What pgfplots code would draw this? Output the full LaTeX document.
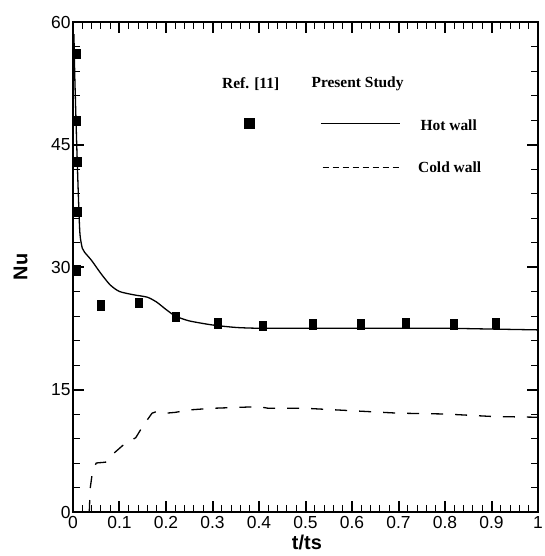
\documentclass[border=0pt]{standalone}
\usepackage{fontspec}
\setmainfont{Liberation Sans}
\newfontfamily\serifbold{Liberation Serif}
\usepackage{pgfplots}
\pgfplotsset{compat=1.18}

\begin{document}
\begin{tikzpicture}
\begin{axis}[
    scale only axis,
    width=465bp, height=490bp,
    xmin=0, xmax=1, ymin=0, ymax=60,
    xtick={0,0.1,...,1.0},
    xticklabels={0,0.1,0.2,0.3,0.4,0.5,0.6,0.7,0.8,0.9,1},
    ytick={0,15,30,45,60},
    minor x tick num=4,
    minor y tick num=4,
    tick align=inside,
    major tick length=11bp,
    minor tick length=7bp,
    major tick style={line width=2bp, black},
    minor tick style={line width=1bp, black},
    axis line style={line width=2bp},
    tick label style={font=\fontsize{17.5}{19}\selectfont},
    /pgf/number format/assume math mode=true,
    xticklabel style={yshift=-1bp},
    yticklabel style={xshift=1bp},
    xlabel={\bfseries t/ts},
    ylabel={\bfseries Nu},
    label style={font=\fontsize{20}{22}\selectfont},
    xlabel style={at={(axis description cs:0.503,0)}, anchor=north, yshift=-20bp},
    ylabel style={at={(axis description cs:0,0.5)}, anchor=south, yshift=42bp},
    clip=false,
]
% Hot wall (present study)
\addplot[black, line width=1.3bp, smooth, tension=0.4] coordinates {
    (0.002,58.5) (0.004,53) (0.008,45) (0.012,38) (0.015,34) (0.02,32.3)
    (0.025,31.8) (0.04,30.8) (0.06,29.2) (0.08,27.8) (0.1,27.0) (0.13,26.6)
    (0.16,26.3) (0.18,25.7) (0.2,24.8) (0.22,24.0) (0.25,23.4) (0.3,22.9)
    (0.35,22.6) (0.4,22.5) (0.5,22.5) (0.6,22.5) (0.7,22.5) (0.8,22.5)
    (0.9,22.4) (1.0,22.3)
};
% Cold wall (present study)
\addplot[black, line width=1.3bp, dash pattern=on 12bp off 12bp] coordinates {
    (0.035,0) (0.037,2.9) (0.042,5.0) (0.05,6.0) (0.07,6.1) (0.09,7.3)
    (0.11,8.3) (0.135,9.1) (0.15,10.5) (0.17,12.1) (0.18,12.3) (0.2,12.1)
    (0.22,12.2) (0.25,12.5) (0.3,12.7) (0.35,12.8) (0.4,12.9) (0.42,12.7)
    (0.5,12.7) (0.6,12.4) (0.7,12.1) (0.8,12.0) (0.9,11.7) (1.0,11.6)
};
% Ref. [11]
\addplot[only marks, mark=square*, mark size=3.5bp, mark options={yscale=1.35, fill=black}] coordinates {
    (0.008,56.1) (0.008,47.9) (0.01,42.9) (0.01,36.8) (0.008,29.6)
    (0.059,25.3) (0.141,25.6) (0.221,23.9) (0.311,23.1) (0.409,22.8)
    (0.516,23.0) (0.618,23.0) (0.716,23.1) (0.819,23.0) (0.910,23.1)
};
% legend
\node[font=\serifbold\bfseries\fontsize{15.5}{17}\selectfont] at (axis cs:0.382,52.4) {Ref. [11]};
\node[font=\serifbold\bfseries\fontsize{15.5}{17}\selectfont] at (axis cs:0.612,52.4) {Present Study};
\node[fill=black, minimum size=11bp, inner sep=0pt] at (axis cs:0.380,47.6) {};
\draw[black, line width=1bp] (axis cs:0.533,47.6) -- (axis cs:0.703,47.6);
\node[font=\serifbold\bfseries\fontsize{15.5}{17}\selectfont] at (axis cs:0.808,47.4) {Hot wall};
\draw[black, line width=1bp, dash pattern=on 6bp off 4bp] (axis cs:0.537,42.2) -- (axis cs:0.707,42.2);
\node[font=\serifbold\bfseries\fontsize{15.5}{17}\selectfont] at (axis cs:0.810,42.2) {Cold wall};
\end{axis}
\pgfresetboundingbox
\path[use as bounding box] (current axis.south west) ++(-73bp,-44bp) rectangle ++(545bp,556bp);
\end{tikzpicture}
\end{document}
